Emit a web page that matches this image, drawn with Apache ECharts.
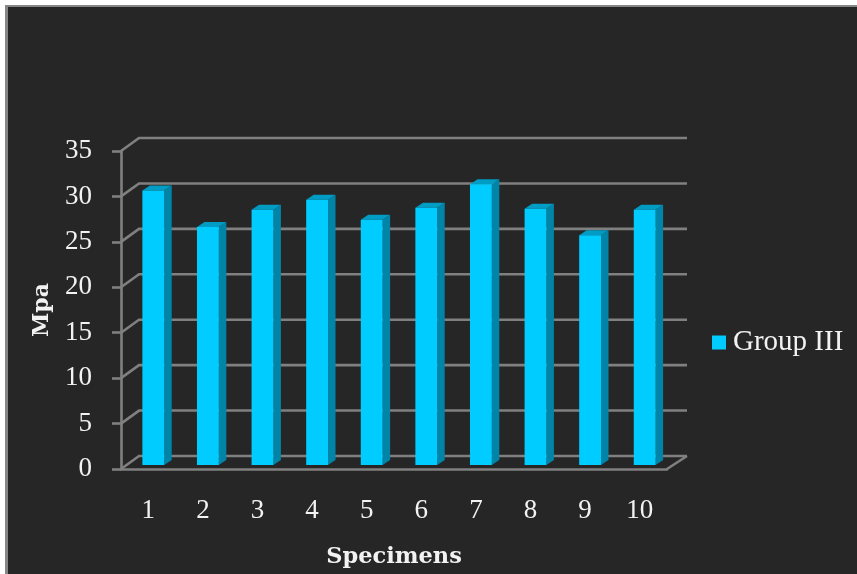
<!DOCTYPE html>
<html>
<head>
<meta charset="utf-8">
<style>html,body{margin:0;padding:0;background:#fff}#c{width:857px;height:574px}</style>
<script src="https://cdn.jsdelivr.net/npm/echarts@6/dist/echarts.min.js"></script>
</head>
<body>
<div id="c"></div>
<script>
const categories = ['1','2','3','4','5','6','7','8','9','10'];
const groupIII = [30.2,26.2,28.1,29.2,27.0,28.3,30.9,28.2,25.3,28.1];
const yTicks = [0,5,10,15,20,25,30,35];

// Depth of the box behind the front axes, and of each bar
const WALL_DX = 18, WALL_DY = 13;
const BAR_DX = 7.5, BAR_DY = 5;
const BAR_SHIFT_X = 5, BAR_SHIFT_Y = 4;
const SERIF = '"Liberation Serif", serif';
const TITLE_SERIF = '"DejaVu Serif", serif';
const LINE = '#808080';

const chart = echarts.init(document.getElementById('c'), null, {renderer:'canvas'});

function wallLines(params, api) {
  const cs = params.coordSys;
  const p = api.coord([0, api.value(1)]);
  const y = p[1];
  const x0 = cs.x, x1 = cs.x + cs.width;
  const style = {stroke:LINE, lineWidth:2.6, fill:null};
  const children = [
    {type:'polyline', shape:{points:[[x0,y],[x0+WALL_DX,y-WALL_DY],[x1+WALL_DX+2,y-WALL_DY]]}, style}
  ];
  if (api.value(1) === 0) {
    children.push({type:'line', shape:{x1:x1,y1:y,x2:x1+WALL_DX+2,y2:y-WALL_DY}, style});
  }
  return {type:'group', children};
}

function bar3d(params, api) {
  const top = api.coord([api.value(0), api.value(1)]);
  const base = api.coord([api.value(0), 0]);
  const w = api.size([1,0])[0] * 0.4;
  const xl = top[0] - w/2 + BAR_SHIFT_X, xr = xl + w;
  const yt = top[1] - BAR_SHIFT_Y, yb = base[1] - BAR_SHIFT_Y;
  return {type:'group', children:[
    {type:'polygon', shape:{points:[[xr,yt],[xr+BAR_DX,yt-BAR_DY],[xr+BAR_DX,yb-BAR_DY],[xr,yb]]}, style:{fill:'#0085A8'}},
    {type:'polygon', shape:{points:[[xl,yt],[xl+BAR_DX,yt-BAR_DY],[xr+BAR_DX,yt-BAR_DY],[xr,yt]]}, style:{fill:'#009CC4'}},
    {type:'rect', shape:{x:xl,y:yt,width:w,height:yb-yt}, style:{fill:api.visual('color')}}
  ]};
}

chart.setOption({
  animation:false,
  backgroundColor:'#262626',
  graphic:[
    {type:'rect', silent:true, z:100, shape:{x:0,y:0,width:857,height:5}, style:{fill:'#fff'}},
    {type:'rect', silent:true, z:100, shape:{x:0,y:0,width:5,height:574}, style:{fill:'#fff'}},
    {type:'rect', silent:true, z:100, shape:{x:5,y:5,width:852,height:2}, style:{fill:'#868686'}},
    {type:'rect', silent:true, z:100, shape:{x:5,y:5,width:3,height:569}, style:{fill:'#868686'}}
  ],
  grid:{left:121,right:190,top:151,bottom:105},
  legend:{
    data:[{name:'Group III', icon:'rect'}],
    left:707, top:323, itemWidth:14, itemHeight:14, itemGap:6, selectedMode:false,
    textStyle:{color:'#f2f2f2', fontFamily:SERIF, fontSize:29, padding:[0,0,0,2]}
  },
  xAxis:{
    type:'category', data:categories,
    name:'Specimens', nameLocation:'middle', nameGap:77,
    nameTextStyle:{color:'#f2f2f2', fontFamily:TITLE_SERIF, fontSize:22.5, fontWeight:'bold'},
    axisLine:{lineStyle:{color:LINE,width:2.6}},
    axisTick:{length:7,lineStyle:{color:LINE,width:2.6}},
    axisLabel:{color:'#f2f2f2', fontFamily:SERIF, fontSize:27, margin:28}
  },
  yAxis:{
    type:'value', min:0, max:35, interval:5,
    name:'Mpa', nameLocation:'middle', nameGap:68,
    nameTextStyle:{color:'#f2f2f2', fontFamily:TITLE_SERIF, fontSize:22, fontWeight:'bold'},
    axisLine:{show:true,lineStyle:{color:LINE,width:2.6}},
    axisTick:{show:true,length:9,lineStyle:{color:LINE,width:2.6}},
    axisLabel:{color:'#f2f2f2', fontFamily:SERIF, fontSize:27, margin:29},
    splitLine:{show:false}
  },
  series:[
    {type:'custom', name:'walls', renderItem:wallLines, data:yTicks.map(v=>[0,v]), clip:false, silent:true, z:1},
    {type:'custom', name:'Group III', renderItem:bar3d, data:groupIII.map((v,i)=>[i,v]), clip:false, itemStyle:{color:'#00CCFF'}, z:2}
  ]
});
</script>
</body>
</html>
